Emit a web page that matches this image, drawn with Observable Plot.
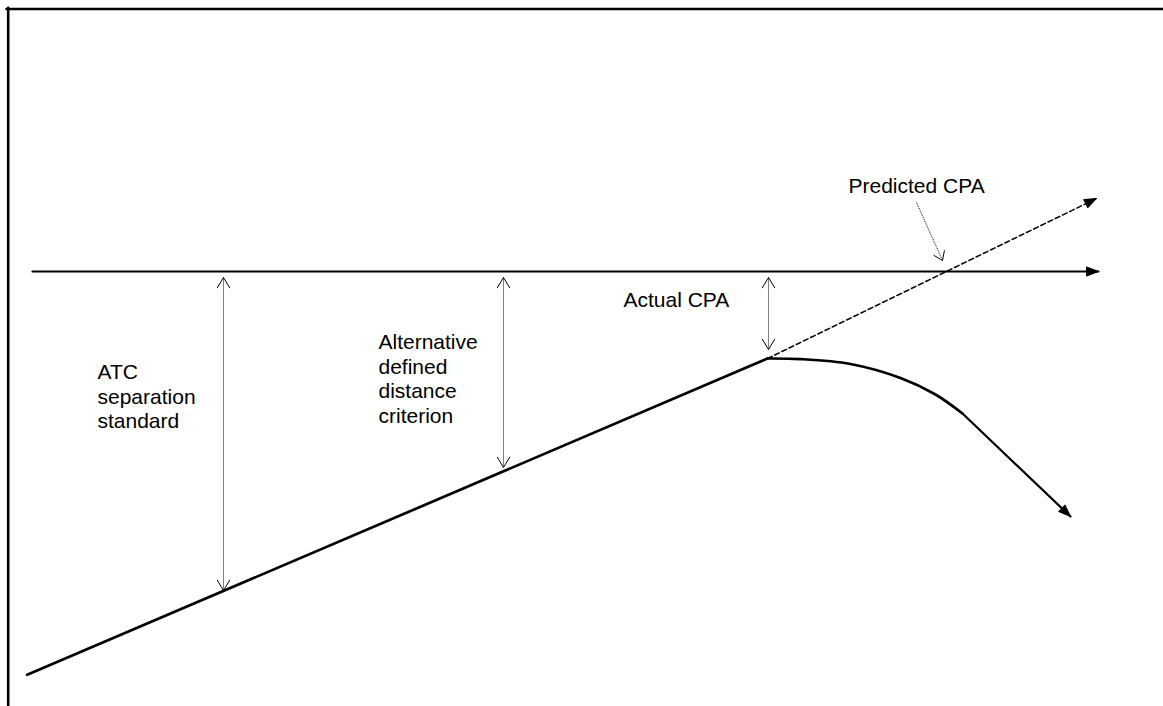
<!DOCTYPE html>
<html>
<head>
<meta charset="utf-8">
<script src="https://cdn.jsdelivr.net/npm/d3@7"></script>
<script src="https://cdn.jsdelivr.net/npm/@observablehq/plot@0.6"></script>
<style>
  html, body { margin: 0; padding: 0; background: #fff; }
  #chart svg { display: block; }
</style>
</head>
<body>
<div id="chart"></div>
<script>
// Diagram geometry (diagram units = px of the 1163x706 canvas, y downward)
const frameTop = [[6, 8.5], [1163, 8.5]];
const frameLeft = [[7.7, 7.3], [7.7, 706]];

const intruderTrack = [[32, 271], [1098, 271]];          // horizontal aircraft path
const ownTrack = [[26.7, 674.3], [767, 358]];             // climbing aircraft path
const predictedTrack = [[767, 358], [1096, 198]];         // dashed extrapolation
const avoidCurve = [[767, 358], [800, 358.6], [850, 363.5], [900, 377.5], [935, 394], [962, 413]];
const avoidStraight = [[962, 413], [1070, 516]];

// vertical dotted double arrows: x, top tip, bottom tip
const sepX = [223, 503, 768];
const sepTop = [277, 277, 277];
const sepBottom = [590, 467, 349];

// pointer from "Predicted CPA" label to crossing point
const pointerFrom = [916, 202];
const pointerTo = [942, 260];

// text labels
const labelText = ["ATC\nseparation\nstandard", "Alternative\ndefined\ndistance\ncriterion", "Actual CPA", "Predicted CPA"];
const labelX = [97, 378, 623, 848];
const labelBaseline = [376.7, 346.7, 306.7, 192.7];

// ---- derived helpers ----
function unit(a, b) {
  const dx = b[0] - a[0], dy = b[1] - a[1], L = Math.hypot(dx, dy);
  return [dx / L, dy / L];
}
function filledHead(tip, dir, id, L = 12, W = 4.6) {
  const [ux, uy] = dir, nx = -uy, ny = ux;
  const bx = tip[0] - L * ux, by = tip[1] - L * uy;
  return [
    {x: tip[0], y: tip[1], id},
    {x: bx + W * nx, y: by + W * ny, id},
    {x: bx - W * nx, y: by - W * ny, id},
    {x: tip[0], y: tip[1], id}
  ];
}
function openHead(tip, dir, id, L = 12, ang = 32) {
  const a = ang * Math.PI / 180;
  const [ux, uy] = dir;
  const rot = (s) => [ux * Math.cos(s) - uy * Math.sin(s), ux * Math.sin(s) + uy * Math.cos(s)];
  const r1 = rot(a), r2 = rot(-a);
  return [
    {x: tip[0] - L * r1[0], y: tip[1] - L * r1[1], id},
    {x: tip[0], y: tip[1], id},
    {x: tip[0] - L * r2[0], y: tip[1] - L * r2[1], id}
  ];
}
const pts = (arr) => arr.map(([x, y]) => ({x, y}));

const filledHeads = [
  ...filledHead(intruderTrack[1], unit(intruderTrack[0], intruderTrack[1]), "h1"),
  ...filledHead(predictedTrack[1], unit(predictedTrack[0], predictedTrack[1]), "h2"),
  ...filledHead(avoidStraight[1], unit(avoidStraight[0], avoidStraight[1]), "h3")
];

const sepLinks = sepX.map((x, i) => ({x, y1: sepTop[i], y2: sepBottom[i]}));
let openHeads = [];
sepX.forEach((x, i) => {
  openHeads = openHeads.concat(openHead([x, sepTop[i]], [0, -1], "t" + i, 12, 31));
  openHeads = openHeads.concat(openHead([x, sepBottom[i]], [0, 1], "b" + i, 12, 31));
});
openHeads = openHeads.concat(openHead(pointerTo, unit(pointerFrom, pointerTo), "p", 10, 35));

const labels = labelText.map((text, i) => ({text, x: labelX[i], y: labelBaseline[i]}));

const chart = Plot.plot({
  width: 1163,
  height: 706,
  margin: 0,
  x: {domain: [0, 1163], range: [0, 1163], axis: null},
  y: {domain: [0, 706], range: [0, 706], axis: null},
  style: {background: "#fff", fontFamily: "'Liberation Sans', Arial, sans-serif"},
  marks: [
    // frame
    Plot.line(pts(frameTop), {x: "x", y: "y", stroke: "#000", strokeWidth: 2.6}),
    Plot.line(pts(frameLeft), {x: "x", y: "y", stroke: "#000", strokeWidth: 2.6}),
    // tracks
    Plot.line(pts(intruderTrack), {x: "x", y: "y", stroke: "#000", strokeWidth: 2.2}),
    Plot.line(pts(ownTrack), {x: "x", y: "y", stroke: "#000", strokeWidth: 2.7}),
    Plot.line(pts(predictedTrack), {x: "x", y: "y", stroke: "#000", strokeWidth: 1.5, strokeDasharray: "5,3"}),
    Plot.line(pts(avoidCurve), {x: "x", y: "y", stroke: "#000", strokeWidth: 2.7, curve: "catmull-rom"}),
    Plot.line(pts(avoidStraight), {x: "x", y: "y", stroke: "#000", strokeWidth: 2.2}),
    Plot.line(filledHeads, {x: "x", y: "y", z: "id", fill: "#000", stroke: "#000", strokeWidth: 1, strokeLinejoin: "miter"}),
    // dotted measurement arrows
    Plot.link(sepLinks, {x1: "x", x2: "x", y1: "y1", y2: "y2", stroke: "#000", strokeWidth: 1, strokeDasharray: "1,1"}),
    Plot.link([{x1: pointerFrom[0], y1: pointerFrom[1], x2: pointerTo[0], y2: pointerTo[1]}],
      {x1: "x1", y1: "y1", x2: "x2", y2: "y2", stroke: "#000", strokeWidth: 1, strokeDasharray: "1,1"}),
    Plot.line(openHeads, {x: "x", y: "y", z: "id", stroke: "#000", strokeWidth: 1, fill: "none"}),
    // labels
    Plot.text(labels.slice(0, 2), {x: "x", y: "y", text: "text", textAnchor: "start", lineAnchor: "top",
      dy: -15, fontSize: 21, lineHeight: 1.16, fill: "#000"}),
    Plot.text(labels.slice(2), {x: "x", y: "y", text: "text", textAnchor: "start", lineAnchor: "bottom",
      fontSize: 21, fill: "#000"})
  ]
});
document.getElementById("chart").appendChild(chart);
</script>
</body>
</html>
